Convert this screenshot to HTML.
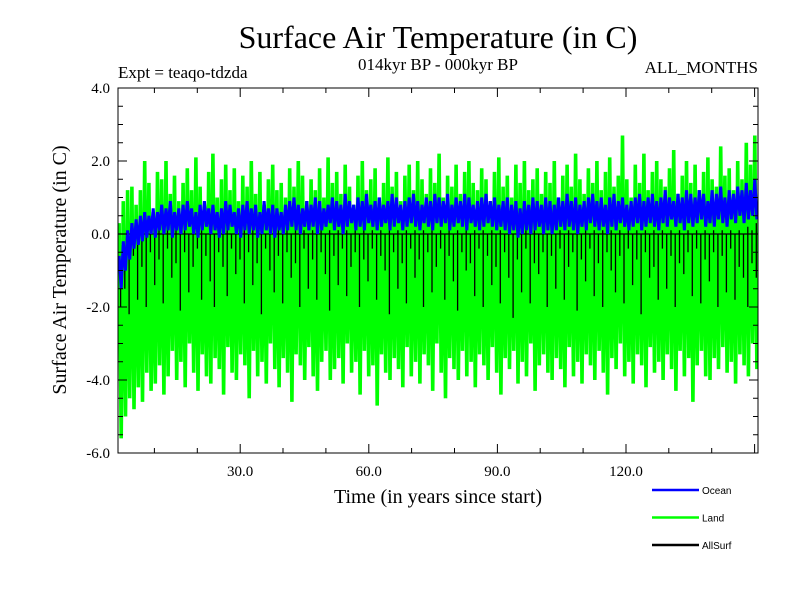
<!DOCTYPE html>
<html><head><meta charset="utf-8"><style>
html,body{margin:0;padding:0;background:#fff;}
svg{display:block;}
</style></head><body>
<svg id="chart" width="800" height="600" viewBox="0 0 800 600" xmlns="http://www.w3.org/2000/svg">
<rect width="800" height="600" fill="#fff"/>
<text x="438" y="48" font-family="Liberation Serif, serif" font-size="32" text-anchor="middle">Surface Air Temperature (in C)</text>
<text x="118" y="78" font-family="Liberation Serif, serif" font-size="17">Expt = teaqo-tdzda</text>
<text x="438" y="70" font-family="Liberation Serif, serif" font-size="17" text-anchor="middle">014kyr BP - 000kyr BP</text>
<text x="758" y="73" font-family="Liberation Serif, serif" font-size="17" text-anchor="end">ALL_MONTHS</text>
<text transform="translate(66,270) rotate(-90)" font-family="Liberation Serif, serif" font-size="20" text-anchor="middle">Surface Air Temperature (in C)</text>
<text x="438" y="503" font-family="Liberation Serif, serif" font-size="20" text-anchor="middle">Time (in years since start)</text>
<g id="plot"></g>
<g id="legend"></g>
</svg>
<script>
const yTickLabels = ["4.0","2.0","0.0","-2.0","-4.0","-6.0"];
const yTickValues = [4,2,0,-2,-4,-6];
const xTickLabels = ["30.0","60.0","90.0","120.0"];
const xTickValues = [30,60,90,120];
const seriesNames = ["Ocean","Land","AllSurf"];
const landHigh = [0.3,0.9,1.2,1.3,0.8,1.2,2.0,1.4,0.6,1.7,1.5,2.0,1.1,1.6,0.9,
1.4,1.8,1.2,2.1,1.3,0.7,1.7,2.2,1.0,1.5,1.9,1.2,1.8,0.9,1.6,
1.3,2.0,1.1,1.7,0.8,1.5,1.9,1.2,1.4,1.0,1.8,1.3,2.0,1.6,0.9,
1.5,1.2,1.8,1.0,2.1,1.4,1.7,1.1,1.9,1.3,0.8,1.6,2.0,1.2,1.5,
1.8,1.0,1.4,2.1,1.3,1.7,0.9,1.6,1.9,1.2,2.0,1.5,1.1,1.8,1.4,
2.2,1.0,1.6,1.3,1.9,1.1,1.7,2.0,1.4,1.2,1.8,1.5,0.9,1.7,2.1,
1.3,1.6,1.0,1.9,1.4,2.0,1.2,1.5,1.8,1.1,1.7,1.4,2.0,1.0,1.6,
1.9,1.3,2.2,1.5,1.1,1.8,1.4,2.0,1.2,1.7,2.1,1.3,1.6,2.7,1.5,
1.0,1.9,1.4,2.2,1.2,1.7,2.0,1.5,1.3,1.8,2.3,1.1,1.6,2.0,1.4,
1.9,1.2,1.7,2.1,1.5,1.3,2.4,1.6,1.8,1.2,2.0,1.5,2.5,1.9,2.7];
const landLow = [-5.6,-5.0,-4.5,-4.8,-4.2,-4.6,-3.8,-4.3,-4.1,-3.6,-4.4,-3.9,-3.2,-4.0,-3.5,
-4.2,-3.0,-3.8,-4.3,-3.3,-3.9,-4.1,-3.4,-3.7,-4.4,-3.1,-3.8,-4.0,-3.3,-3.6,
-4.5,-3.2,-3.9,-3.5,-4.1,-3.0,-3.7,-4.2,-3.4,-3.8,-4.6,-3.3,-3.6,-4.0,-3.1,
-3.9,-4.3,-3.5,-3.2,-4.0,-3.7,-3.4,-4.1,-3.0,-3.8,-3.5,-4.4,-3.2,-3.9,-3.6,
-4.7,-3.3,-3.8,-4.0,-3.4,-3.7,-4.2,-3.1,-3.9,-3.5,-4.1,-3.3,-3.6,-4.3,-3.0,
-3.8,-4.5,-3.4,-3.7,-4.0,-3.2,-3.9,-3.5,-4.2,-3.3,-3.6,-4.0,-3.1,-3.8,-4.4,
-3.4,-3.7,-3.2,-4.1,-3.5,-3.9,-3.0,-4.3,-3.6,-3.3,-3.8,-4.0,-3.4,-3.7,-4.2,
-3.1,-3.9,-3.5,-4.1,-3.3,-3.6,-4.0,-3.2,-3.8,-4.4,-3.4,-3.7,-3.0,-3.9,-3.5,
-4.1,-3.3,-3.6,-4.2,-3.1,-3.8,-3.5,-4.0,-3.3,-3.7,-4.3,-3.2,-3.9,-3.4,-4.6,
-3.6,-3.2,-3.9,-4.0,-3.4,-3.7,-3.1,-3.8,-3.5,-4.1,-3.3,-3.6,-3.9,-3.0,-3.7];
const oceanHigh = [-0.6,-0.2,0.1,0.3,0.4,0.5,0.6,0.5,0.7,0.6,0.8,0.7,0.9,0.6,0.7,
0.8,0.9,0.7,0.6,0.8,0.9,0.7,0.8,0.6,0.7,0.9,0.8,0.6,0.7,0.8,
0.9,0.7,0.8,0.6,0.9,0.7,0.8,0.7,0.6,0.8,0.9,1.0,0.8,0.7,0.9,
0.8,1.0,0.9,0.7,0.8,1.0,0.9,0.8,1.1,0.9,0.8,1.0,0.9,1.1,0.8,
0.9,1.0,0.8,0.9,1.1,1.0,0.8,0.9,1.0,1.1,0.9,0.8,1.0,0.9,1.1,
1.0,0.9,1.1,0.8,1.0,0.9,1.1,1.0,0.8,0.9,1.0,1.1,0.9,1.0,0.8,
0.9,1.0,0.8,0.9,0.7,0.9,0.8,1.0,0.9,0.8,1.0,0.9,0.8,1.0,0.9,
1.1,0.9,1.0,0.8,0.9,1.0,1.1,0.9,1.0,0.8,1.0,1.1,0.9,1.0,0.8,
0.9,1.0,1.1,0.9,1.0,1.1,0.9,1.0,1.2,1.0,0.9,1.1,1.0,1.2,1.1,
1.0,1.2,1.1,0.9,1.2,1.1,1.3,1.0,1.2,1.1,1.3,1.2,1.4,1.2,1.5];
const oceanLow = [-1.5,-1.0,-0.7,-0.4,-0.3,-0.2,-0.1,0.0,-0.1,0.1,0.0,0.1,-0.1,0.1,0.0,
0.1,0.2,0.0,-0.1,0.1,0.2,0.0,0.1,-0.1,0.0,0.1,0.2,0.0,-0.1,0.1,
0.0,0.1,-0.1,0.0,0.1,0.0,-0.1,0.1,0.0,0.1,0.2,0.1,0.0,0.2,0.1,
0.2,0.0,0.1,0.2,0.3,0.1,0.2,0.0,0.2,0.3,0.1,0.2,0.1,0.3,0.2,
0.1,0.2,0.3,0.1,0.2,0.3,0.1,0.2,0.3,0.2,0.1,0.3,0.2,0.1,0.3,
0.2,0.3,0.1,0.2,0.3,0.2,0.1,0.3,0.2,0.1,0.2,0.3,0.2,0.1,0.2,
0.1,0.0,0.1,-0.1,0.0,0.1,0.0,0.1,0.2,0.0,0.1,0.0,0.1,0.2,0.1,
0.2,0.1,0.0,0.2,0.1,0.3,0.2,0.1,0.2,0.0,0.2,0.1,0.3,0.2,0.1,
0.2,0.3,0.1,0.2,0.3,0.2,0.1,0.3,0.2,0.4,0.2,0.3,0.1,0.3,0.2,
0.3,0.4,0.2,0.3,0.2,0.4,0.3,0.2,0.4,0.3,0.5,0.3,0.4,0.5,0.4];
const allHigh = [-0.8,-0.4,-0.2,0.0,0.0,0.1,0.0,0.1,0.0,0.1,0.0,0.1,0.0,0.1,0.0,
0.1,0.0,0.1,0.0,0.1,0.0,0.1,0.0,0.1,0.0,0.1,0.0,0.1,0.0,0.1,
0.0,0.1,0.0,0.1,0.0,0.1,0.0,0.1,0.0,0.1,0.0,0.1,0.0,0.1,0.0,
0.1,0.0,0.1,0.0,0.1,0.0,0.1,0.0,0.1,0.0,0.1,0.0,0.1,0.0,0.1,
0.0,0.1,0.0,0.1,0.0,0.1,0.0,0.1,0.0,0.1,0.0,0.1,0.0,0.1,0.0,
0.1,0.0,0.1,0.0,0.1,0.0,0.1,0.0,0.1,0.0,0.1,0.0,0.1,0.0,0.1,
0.0,0.1,0.0,0.1,0.0,0.1,0.0,0.1,0.0,0.1,0.0,0.1,0.0,0.1,0.0,
0.1,0.0,0.1,0.0,0.1,0.0,0.1,0.0,0.1,0.0,0.1,0.0,0.1,0.0,0.1,
0.0,0.1,0.0,0.1,0.0,0.1,0.0,0.1,0.0,0.1,0.0,0.1,0.0,0.1,0.0,
0.1,0.0,0.1,0.0,0.1,0.0,0.1,0.0,0.1,0.0,0.1,0.0,0.2,0.1,0.3];
const allLow = [-2.0,-1.5,-2.2,-0.6,-1.8,-0.9,-2.0,-0.5,-1.4,-0.7,-1.9,-0.4,-1.2,-0.8,-2.1,
-0.5,-1.6,-0.9,-0.4,-1.8,-0.6,-1.3,-2.0,-0.5,-0.9,-1.7,-0.4,-1.1,-0.7,-1.9,
-0.5,-1.4,-0.8,-2.2,-0.4,-1.0,-1.6,-0.6,-1.9,-0.5,-1.2,-0.8,-2.0,-0.4,-1.5,
-0.7,-1.8,-0.5,-1.1,-2.1,-0.6,-1.4,-0.4,-1.7,-0.9,-0.5,-2.0,-0.7,-1.3,-0.4,
-1.8,-0.6,-1.0,-2.2,-0.5,-1.5,-0.8,-1.9,-0.4,-1.2,-0.7,-2.0,-0.5,-1.6,-0.9,
-0.4,-1.8,-0.6,-1.3,-2.1,-0.5,-1.0,-0.8,-1.7,-0.4,-2.0,-0.6,-1.4,-0.9,-1.9,
-0.5,-1.2,-2.3,-0.7,-1.6,-0.4,-1.9,-0.8,-1.1,-0.5,-2.0,-0.6,-1.5,-0.4,-1.8,
-0.9,-0.5,-2.1,-0.7,-1.3,-0.4,-1.7,-0.8,-2.0,-0.5,-1.0,-1.6,-0.6,-1.9,-0.4,
-1.4,-0.7,-2.2,-0.5,-1.2,-0.9,-1.8,-0.4,-1.5,-0.6,-2.0,-0.8,-1.1,-0.5,-1.7,
-0.4,-1.9,-0.7,-1.3,-0.5,-2.0,-0.6,-1.6,-0.4,-1.8,-0.9,-1.2,-2.0,-0.8,-1.2];

const X0=118, X1=758, Y0=88, Y1=453;
const xMin=1.5, xMax=150.8, yMin=-6, yMax=4;
const sx = v => X0 + (v - xMin) / (xMax - xMin) * (X1 - X0);
const sy = v => Y1 - (v - yMin) / (yMax - yMin) * (Y1 - Y0);
const NS="http://www.w3.org/2000/svg";
const plot=document.getElementById('plot');
const legend=document.getElementById('legend');
function mk(tag, parent){const e=document.createElementNS(NS,tag);parent.appendChild(e);return e;}

const defs=mk('defs',plot);
const cp=mk('clipPath',defs); cp.setAttribute('id','clip');
const cr=mk('rect',cp); cr.setAttribute('x',X0);cr.setAttribute('y',Y0);cr.setAttribute('width',X1-X0);cr.setAttribute('height',Y1-Y0);

function pathFrom(high, low, step){
  let d='';
  for(let i=0;i<high.length;i++){
    const t1=xMin+i*step+step*0.25, t2=xMin+i*step+step*0.75;
    d+=(i===0?'M':'L')+sx(t1).toFixed(1)+','+sy(high[i]).toFixed(1);
    d+='L'+sx(t2).toFixed(1)+','+sy(low[i]).toFixed(1);
  }
  return d;
}
function spikes(high, low, step){
  let d='';
  for(let i=0;i<high.length;i++){
    const x=sx(xMin+i*step+step*0.6).toFixed(1);
    d+='M'+x+','+sy(high[i]).toFixed(1)+'V'+sy(low[i]).toFixed(1);
  }
  return d;
}
const series=mk('g',plot); series.setAttribute('clip-path','url(#clip)');



const land=mk('path',series);
land.setAttribute('d',pathFrom(landHigh,landLow,(xMax-xMin)/landHigh.length));
land.setAttribute('fill','none');land.setAttribute('stroke','#00ff00');land.setAttribute('stroke-width','3.6');



const zero=mk('line',series);
zero.setAttribute('x1',X0);zero.setAttribute('x2',X1);zero.setAttribute('y1',sy(0));zero.setAttribute('y2',sy(0));
zero.setAttribute('stroke','#000');zero.setAttribute('stroke-width','1.2');



const all=mk('path',series);
all.setAttribute('d',spikes(allHigh,allLow,(xMax-xMin)/allHigh.length));
all.setAttribute('fill','none');all.setAttribute('stroke','#000');all.setAttribute('stroke-width','1.3');



const ocean=mk('path',series);
ocean.setAttribute('d',pathFrom(oceanHigh,oceanLow,(xMax-xMin)/oceanHigh.length));
ocean.setAttribute('fill','none');ocean.setAttribute('stroke','#0000ff');ocean.setAttribute('stroke-width','3');



const frame=mk('rect',plot);
frame.setAttribute('x',X0);frame.setAttribute('y',Y0);frame.setAttribute('width',X1-X0);frame.setAttribute('height',Y1-Y0);
frame.setAttribute('fill','none');frame.setAttribute('stroke','#000');frame.setAttribute('stroke-width','1');



let tk='';
for(let v=yMin; v<=yMax+1e-9; v+=0.5){
  const y=sy(v).toFixed(1), major=Math.abs(v%2)<1e-9, L=major?9:5;
  tk+=`M${X0},${y}h${L}M${X1},${y}h${-L}`;
}
for(let v=10; v<xMax; v+=10){
  const x=sx(v).toFixed(1), major=v%30===0, L=major?9:5;
  tk+=`M${x},${Y1}v${-L}M${x},${Y0}v${L}`;
}
const ticks=mk('path',plot);
ticks.setAttribute('d',tk);ticks.setAttribute('stroke','#000');ticks.setAttribute('stroke-width','1');



yTickValues.forEach((v,i)=>{
  const t=mk('text',plot);
  t.setAttribute('x',X0-8);t.setAttribute('y',sy(v)+5);t.setAttribute('text-anchor','end');
  t.setAttribute('font-family','Liberation Serif, serif');t.setAttribute('font-size','15');
  t.textContent=yTickLabels[i];
  
  
});
xTickValues.forEach((v,i)=>{
  const t=mk('text',plot);
  t.setAttribute('x',sx(v));t.setAttribute('y',Y1+23);t.setAttribute('text-anchor','middle');
  t.setAttribute('font-family','Liberation Serif, serif');t.setAttribute('font-size','15');
  t.textContent=xTickLabels[i];
  
  
});

const legColors=['#0000ff','#00ff00','#000000'];
seriesNames.forEach((n,i)=>{
  const y=490+i*27.5;
  const l=mk('line',legend);
  l.setAttribute('x1',652);l.setAttribute('x2',699);l.setAttribute('y1',y);l.setAttribute('y2',y);
  l.setAttribute('stroke',legColors[i]);l.setAttribute('stroke-width','2.5');
  
  
  const t=mk('text',legend);
  t.setAttribute('x',702);t.setAttribute('y',y+4);
  t.setAttribute('font-family','Liberation Sans, sans-serif');t.setAttribute('font-size','10');
  t.textContent=n;
  
  
});
</script>
</body></html>
